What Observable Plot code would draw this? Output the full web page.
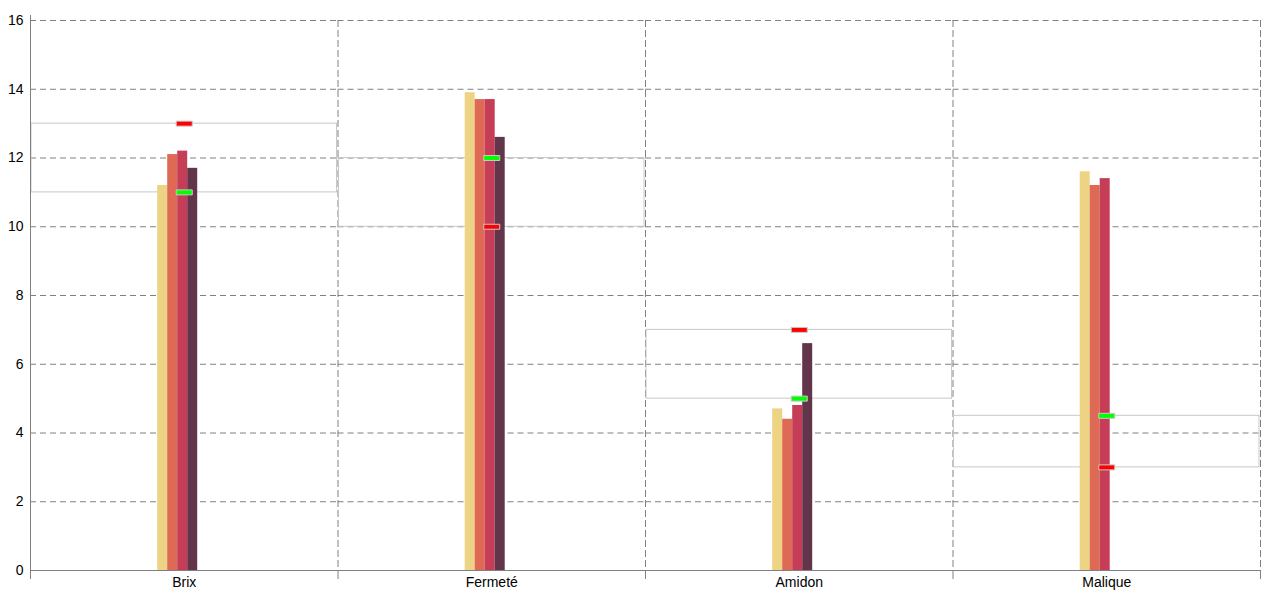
<!DOCTYPE html>
<html>
<head>
<meta charset="utf-8">
<script src="https://cdn.jsdelivr.net/npm/d3@7"></script>
<script src="https://cdn.jsdelivr.net/npm/@observablehq/plot@0.6"></script>
<style>
  html, body { margin: 0; padding: 0; background: #fff; }
  #chart svg { display: block; }
</style>
</head>
<body>
<div id="chart"></div>
<script>
// ---- data ----
const categories = ["Brix", "Fermeté", "Amidon", "Malique"];
const series = ["Série 1", "Série 2", "Série 3", "Série 4", "Série 5"];
const serie1 = [11.2, 13.9, 4.7, 11.6];
const serie2 = [12.1, 13.7, 4.4, 11.2];
const serie3 = [12.2, 13.7, 4.8, 11.4];
const serie4 = [11.7, 12.6, 6.6, 0];
const serie5 = [0, 0, 0, 0];
const rangeLow = [11, 10, 5, 3];
const rangeHigh = [13, 12, 7, 4.5];
const greenMarkers = [11, 12, 5, 4.5];
const redMarkers = [13, 10, 7, 3];
const yTicks = [0, 2, 4, 6, 8, 10, 12, 14, 16];
const seriesColors = ["#edd384", "#de6a55", "#c53d56", "#63354b", "#5f9ea0"];

// ---- layout / style ----
const W = 1280, H = 600;
const mL = 30, mR = 20, mT = 20, mB = 30;
const barW = 10;
const gridColor = "#808080";
const dash = "6,4";

const seriesValues = [serie1, serie2, serie3, serie4, serie5];
const barRows = categories.flatMap((c, i) =>
  series.map((s, j) => ({cat: c, series: s, value: seriesValues[j][i]})));
const rangeRows = categories.map((c, i) => ({cat: c, low: rangeLow[i], high: rangeHigh[i]}));
const greenRows = categories.map((c, i) => ({cat: c, value: greenMarkers[i]}));
const redRows = categories.map((c, i) => ({cat: c, value: redMarkers[i]}));

const facetW = (W - mL - mR) / categories.length;
const padOuter = (facetW / barW - series.length) / 2;

const markerSymbol = {
  draw(ctx) {
    ctx.moveTo(-8, -2.5);
    ctx.lineTo(8, -2.5);
    ctx.lineTo(8, 2.5);
    ctx.lineTo(-8, 2.5);
    ctx.closePath();
  }
};

const chart = Plot.plot({
  width: W,
  height: H,
  marginLeft: mL,
  marginRight: mR,
  marginTop: mT,
  marginBottom: mB,
  style: {fontFamily: "'Liberation Sans', Arial, sans-serif", fontSize: "14px", color: "#000", background: "#fff"},
  fx: {domain: categories, padding: 0, label: null, round: false},
  x: {domain: series, paddingInner: 0, paddingOuter: padOuter, align: 0.494, round: false, axis: null},
  y: {domain: [0, 16], label: null},
  color: {domain: series, range: seriesColors},
  marks: [
    Plot.gridY(yTicks, {stroke: gridColor, strokeOpacity: 1, strokeDasharray: dash}),
    Plot.frame({anchor: "right", stroke: gridColor, strokeDasharray: dash}),
    Plot.rectY(rangeRows, {fx: "cat", y1: "low", y2: "high", fill: "none", stroke: "#c8c8c8", insetLeft: 1, insetRight: 1}),
    Plot.barY(barRows, {fx: "cat", x: "series", y: "value", fill: "series"}),
    Plot.ruleY([0], {stroke: gridColor}),
    Plot.frame({anchor: "left", facetAnchor: "left", stroke: gridColor, insetTop: -5, insetBottom: -8}),
    Plot.frame({anchor: "right", stroke: gridColor, insetTop: H - mT - mB, insetBottom: -8}),
    Plot.axisY(yTicks, {tickSize: 0, tickPadding: 7, label: null, fill: "#000"}),
    Plot.axisFx({anchor: "bottom", tickSize: 0, tickPadding: 7, label: null, fill: "#000"}),
    Plot.dot(greenRows, {fx: "cat", y: "value", symbol: markerSymbol, fill: "#00ff00", stroke: "#c8c8c8", strokeWidth: 1}),
    Plot.dot(redRows, {fx: "cat", y: "value", symbol: markerSymbol, fill: "#ff0000", stroke: "#c8c8c8", strokeWidth: 1})
  ]
});
document.getElementById("chart").appendChild(chart);
</script>
</body>
</html>
